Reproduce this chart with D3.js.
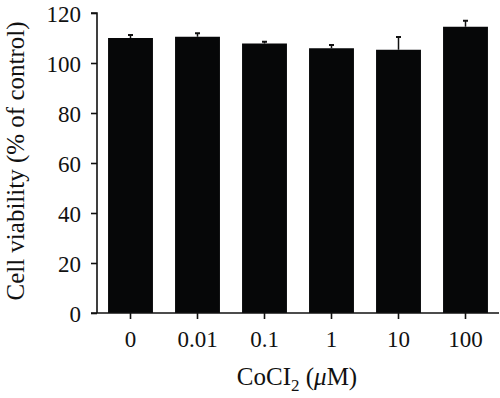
<!DOCTYPE html>
<html>
<head>
<meta charset="utf-8">
<script src="https://cdn.jsdelivr.net/npm/d3@7"></script>
<style>
  body { margin: 0; background: #fff; }
  svg text { font-family: "Liberation Serif", "DejaVu Serif", serif; fill: #111; }
</style>
</head>
<body>
<div id="chart"></div>
<script>
// data
const doses = ["0", "0.01", "0.1", "1", "10", "100"];
const viability = [110, 110.5, 107.8, 105.9, 105.3, 114.5];
const errors = [1.2, 1.4, 0.7, 1.3, 5.1, 2.4];
const yTicks = [0, 20, 40, 60, 80, 100, 120];

const width = 500;
const height = 398;
const margin = { top: 13, right: 1, bottom: 85, left: 97 };

const svg = d3
  .select("#chart")
  .append("svg")
  .attr("width", width)
  .attr("height", height);

const x = d3
  .scaleBand()
  .domain(doses)
  .range([margin.left, width - margin.right])
  .paddingInner(0.33)
  .paddingOuter(0.165);

const y = d3
  .scaleLinear()
  .domain([0, 120])
  .range([height - margin.bottom, margin.top]);

// bars
svg
  .append("g")
  .selectAll("rect")
  .data(doses)
  .join("rect")
  .attr("x", (d) => x(d))
  .attr("y", (d, i) => y(viability[i]))
  .attr("width", x.bandwidth())
  .attr("height", (d, i) => y(0) - y(viability[i]))
  .attr("fill", "#060708");

// error bars (upper only)
const err = svg.append("g").attr("stroke", "#111");
err
  .selectAll("line.stem")
  .data(doses)
  .join("line")
  .attr("class", "stem")
  .attr("x1", (d) => x(d) + x.bandwidth() / 2)
  .attr("x2", (d) => x(d) + x.bandwidth() / 2)
  .attr("y1", (d, i) => y(viability[i]))
  .attr("y2", (d, i) => y(viability[i] + errors[i]))
  .attr("stroke-width", 1.5);
err
  .selectAll("line.cap")
  .data(doses)
  .join("line")
  .attr("class", "cap")
  .attr("x1", (d) => x(d) + x.bandwidth() / 2 - 2.5)
  .attr("x2", (d) => x(d) + x.bandwidth() / 2 + 2.5)
  .attr("y1", (d, i) => y(viability[i] + errors[i]))
  .attr("y2", (d, i) => y(viability[i] + errors[i]))
  .attr("stroke-width", 2);

// y axis
svg
  .append("g")
  .attr("transform", `translate(${margin.left},0)`)
  .call(d3.axisLeft(y).tickValues(yTicks).tickSize(6).tickPadding(10))
  .call((g) => g.selectAll("path, line").attr("stroke", "#111").attr("stroke-width", 1.6))
  .call((g) => g.select(".domain").attr("d", `M-6,${y(120)}H0V${y(0)}`))
  .call((g) =>
    g.selectAll(".tick text").attr("font-size", 23).attr("font-family", null).attr("dy", "0.38em")
  );

// x axis
svg
  .append("g")
  .attr("transform", `translate(0,${y(0)})`)
  .call(d3.axisBottom(x).tickSize(6).tickSizeOuter(0))
  .call((g) => g.selectAll("path, line").attr("stroke", "#111").attr("stroke-width", 1.6))
  .call((g) => g.select(".domain").attr("d", `M${margin.left - 6},0H${width - 1}`))
  .call((g) =>
    g.selectAll(".tick text").attr("font-size", 23).attr("font-family", null).attr("y", 34).attr("dy", 0)
  );

// axis titles
svg
  .append("text")
  .attr("transform", `translate(24,161) rotate(-90)`)
  .attr("text-anchor", "middle")
  .attr("font-size", 25)
  .text("Cell viability (% of control)");

const xt = svg
  .append("text")
  .attr("x", 297)
  .attr("y", 385)
  .attr("text-anchor", "middle")
  .attr("font-size", 25);
xt.append("tspan").text("CoCI");
xt.append("tspan").attr("font-size", 17).attr("dy", 6).text("2");
xt.append("tspan").attr("dy", -6).text(" (");
xt.append("tspan").attr("font-style", "italic").text("μ");
xt.append("tspan").text("M)");
</script>
</body>
</html>
